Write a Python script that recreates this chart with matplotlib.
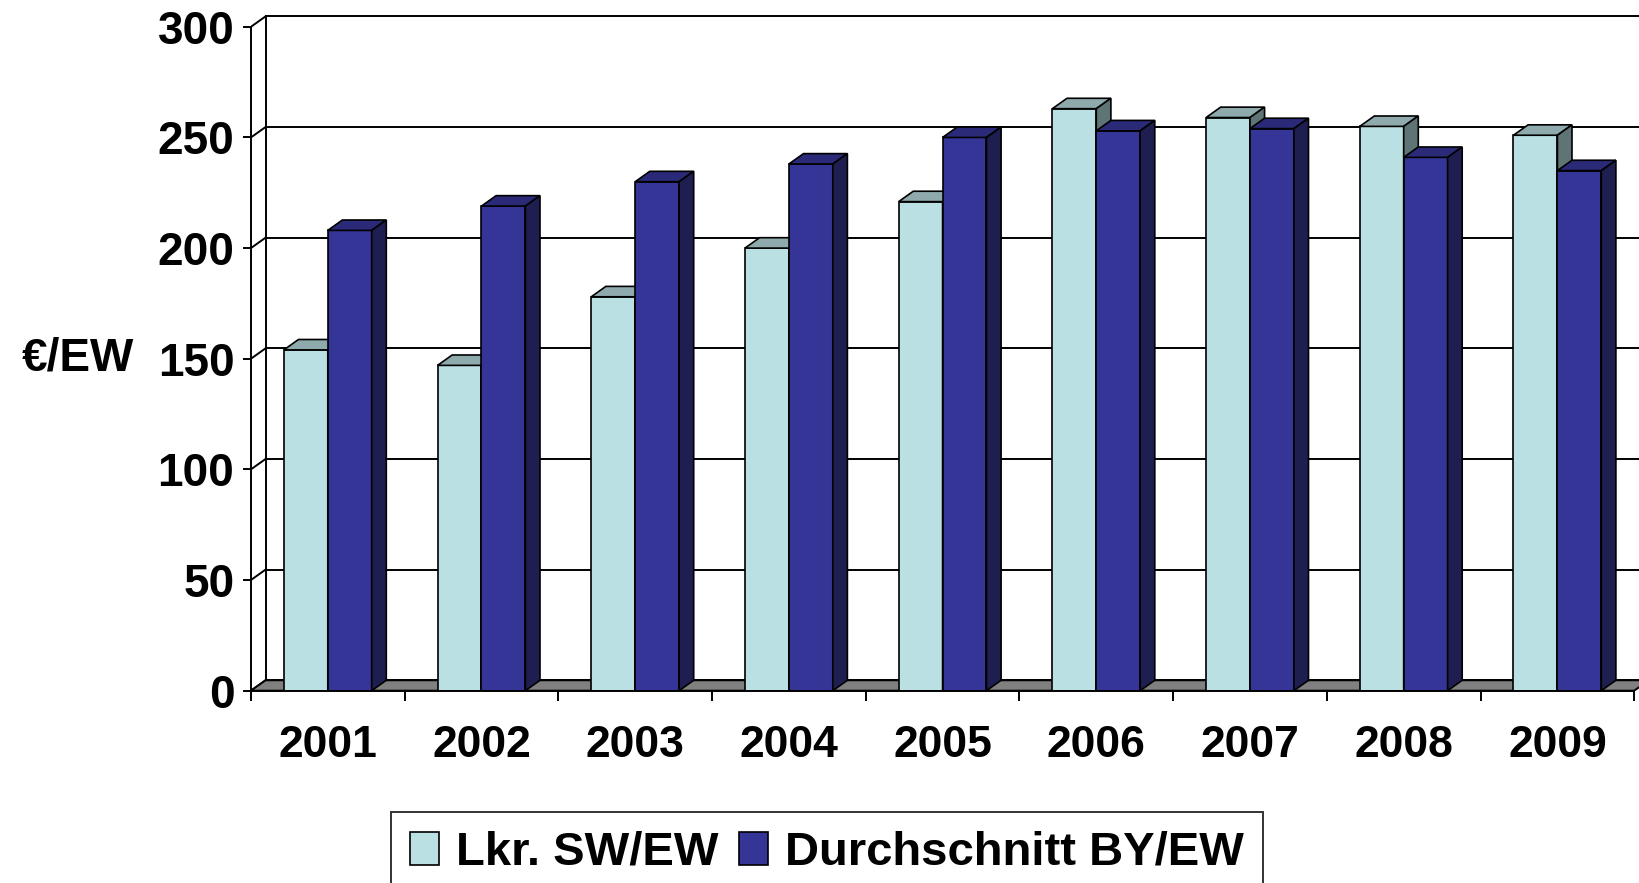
import matplotlib.pyplot as plt
from matplotlib.patches import Polygon, Patch

years = ['2001', '2002', '2003', '2004', '2005', '2006', '2007', '2008', '2009']
lkr_sw = [154, 147, 178, 200, 221, 263, 259, 255, 251]
avg_by = [208, 219, 230, 238, 250, 253, 254, 241, 235]
series_names = ['Lkr. SW/EW', 'Durchschnitt BY/EW']
y_ticks = [0, 50, 100, 150, 200, 250, 300]

# face colours (front, top, side)
light = ('#BBE0E3', '#8FAAAC', '#5F7475')
dark = ('#353597', '#2A2A78', '#1E1E50')

plt.rcParams['font.family'] = ['Liberation Sans', 'DejaVu Sans']
plt.rcParams['font.weight'] = 'bold'

fig = plt.figure(figsize=(16.39, 8.83), dpi=100)
ax = fig.add_axes([0.1531, 0.2178, 0.8469, 0.7769])
n = len(years)
ax.set_xlim(0, 9.031)
ax.set_ylim(0, 310)

# depth offset of the 3d box (category units / value units)
dx, dy = 0.095, 4.7
lw = 1.4

# back wall gridlines and left side wall
for v in y_ticks:
    ax.plot([dx, n + dx], [v + dy, v + dy], color='black', lw=lw, zorder=1)
    ax.plot([0, dx], [v, v + dy], color='black', lw=lw, zorder=1)
ax.plot([dx, dx], [dy, y_ticks[-1] + dy], color='black', lw=lw, zorder=1)

# floor
ax.add_patch(Polygon([(0, 0), (n, 0), (n + dx, dy), (dx, dy)], closed=True,
                     facecolor='#808080', edgecolor='black', lw=lw, zorder=2))

bw = 0.2857
x_light = [i + 0.75 * bw for i in range(n)]
x_dark = [i + 1.75 * bw for i in range(n)]


def box(x0, h, cols, z):
    ax.bar(x0, h, width=bw, align='edge', color=cols[0], edgecolor='black',
           lw=1.2, zorder=z)
    top = [(x0, h), (x0 + bw, h), (x0 + bw + dx, h + dy), (x0 + dx, h + dy)]
    side = [(x0 + bw, 0), (x0 + bw + dx, dy), (x0 + bw + dx, h + dy), (x0 + bw, h)]
    ax.add_patch(Polygon(top, closed=True, facecolor=cols[1], edgecolor='black',
                         lw=1.2, zorder=z))
    ax.add_patch(Polygon(side, closed=True, facecolor=cols[2], edgecolor='black',
                         lw=1.2, zorder=z))


for i in range(n):
    box(x_light[i], lkr_sw[i], light, 3 + 2 * i)
    box(x_dark[i], avg_by[i], dark, 4 + 2 * i)

# axes: front spines, ticks and labels
for s in ['top', 'right']:
    ax.spines[s].set_visible(False)
ax.spines['left'].set_bounds(0, 300)
ax.spines['bottom'].set_bounds(0, n)
for s in ['left', 'bottom']:
    ax.spines[s].set_linewidth(lw)
    ax.spines[s].set_zorder(30)

ax.set_yticks(y_ticks)
ax.set_yticklabels([str(v) for v in y_ticks])
ax.tick_params(axis='y', length=6, width=lw, pad=6, labelsize=33)

ax.set_xticks(range(n + 1))
ax.set_xticklabels([])
ax.set_xticks([i + 0.5 for i in range(n)], minor=True)
ax.set_xticklabels(years, minor=True)
ax.tick_params(axis='x', which='major', length=7, width=lw)
ax.tick_params(axis='x', which='minor', length=0, pad=25, labelsize=32)

ax.set_ylabel('€/EW', rotation=0, fontsize=33, fontweight='bold',
              ha='right', va='center')
ax.yaxis.set_label_coords(-0.084, 150 / 310)

handles = [Patch(facecolor=light[0], edgecolor='black', lw=1.2),
           Patch(facecolor=dark[0], edgecolor='black', lw=1.2)]
leg = fig.legend(handles, series_names, loc='upper center', ncol=2,
                 bbox_to_anchor=(0.5045, 0.0804), borderaxespad=0,
                 fontsize=34, frameon=True, fancybox=False,
                 handlelength=0.62, handleheight=0.7, handletextpad=0.36,
                 columnspacing=0.44, borderpad=0.4)
leg.get_frame().set_edgecolor('black')
leg.get_frame().set_linewidth(1.4)

fig.savefig('out.png', dpi=100)
